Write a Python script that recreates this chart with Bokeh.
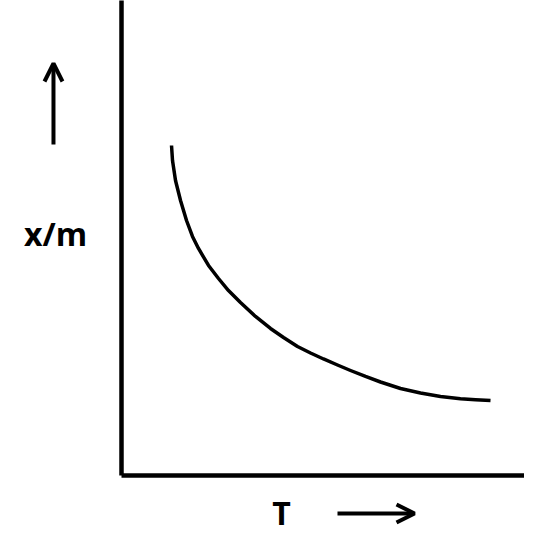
from bokeh.plotting import figure
from bokeh.models import Range1d, Arrow, OpenHead, ColumnDataSource
from bokeh.core.properties import value
from bokeh.embed import file_html
from bokeh.resources import INLINE

# Curve: adsorption x/m vs temperature T (arbitrary units)
T_vals = [12.17, 12.41, 13.14, 14.36, 15.82, 17.27, 18.73, 21.17, 23.60, 26.03, 28.95,
          32.60, 36.25, 39.42, 42.82, 45.99, 49.15, 52.55, 55.72, 59.37, 63.02, 67.88,
          72.75, 77.62, 82.48, 86.13, 89.78]
xm_vals = [70.66, 67.45, 63.17, 58.89, 54.60, 51.18, 48.61, 44.97, 42.18, 39.61, 37.04,
           34.05, 31.48, 29.55, 27.62, 26.23, 24.95, 23.66, 22.48, 21.20, 20.02, 18.63,
           17.67, 16.92, 16.45, 16.23, 16.06]

# Axis labels and their positions (data units)
label_texts = ["x/m", "T"]
label_x = [-16.06, 38.93]
label_y = [51.82, -7.92]

# Direction arrows (data units)
arrow_x0 = [-16.55, 52.55]
arrow_y0 = [70.88, -8.14]
arrow_x1 = [-16.55, 71.29]
arrow_y1 = [88.22, -8.14]

x_lo, x_hi = -29.44, 98.05
y_lo, y_hi = -14.35, 101.71

p = figure(width=524, height=542, output_backend="svg", toolbar_location=None,
           x_range=Range1d(x_lo, x_hi), y_range=Range1d(y_lo, y_hi),
           min_border=0, min_border_left=0, min_border_right=0,
           min_border_top=0, min_border_bottom=0)
p.axis.visible = False
p.grid.visible = False
p.outline_line_color = None
p.background_fill_color = "white"
p.border_fill_color = "white"

# axis lines
p.segment(x0=[0, 0], y0=[0, 0], x1=[0, x_hi + 5], y1=[y_hi + 5, 0],
          line_color="black", line_width=4.5)

# curve
p.line(T_vals, xm_vals, line_color="black", line_width=3.5,
       line_join="round", line_cap="butt")

# labels
src = ColumnDataSource(dict(x=label_x, y=label_y, t=label_texts))
p.text(x="x", y="y", text="t", source=src, text_font=value("Open Sans"),
       text_font_style="bold", text_font_size="32px", text_align="center",
       text_baseline="middle", text_color="black")

for xa, ya, xb, yb in zip(arrow_x0, arrow_y0, arrow_x1, arrow_y1):
    p.add_layout(Arrow(x_start=xa, y_start=ya, x_end=xb, y_end=yb,
                       line_width=4, line_color="black",
                       end=OpenHead(size=18, line_width=4, line_color="black")))

open("out.html", "w").write(file_html(p, INLINE))
